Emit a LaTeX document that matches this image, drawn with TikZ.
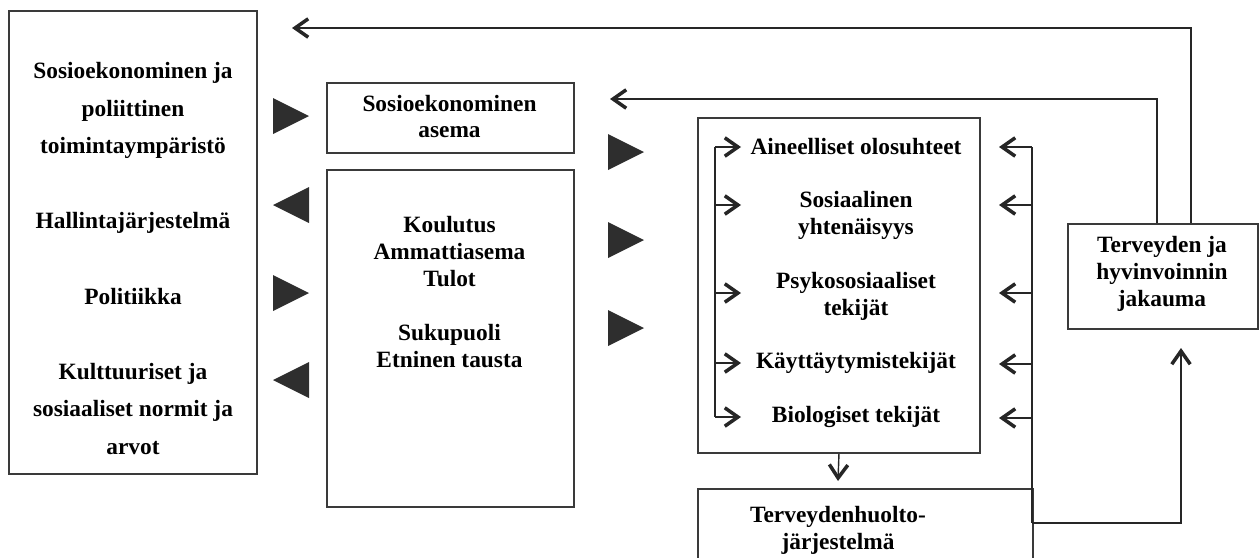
\documentclass[tikz,border=0pt]{standalone}
\usepackage{fontspec}
\setmainfont{Liberation Serif}
\usetikzlibrary{arrows.meta}
\definecolor{edge}{HTML}{3A3A3A}
\definecolor{tri}{HTML}{2E2E2E}
\tikzset{
  box/.style={draw=edge, line width=1.1pt, fill=white, rectangle, inner sep=0pt},
  lbl/.style={align=center, font=\bfseries\fontsize{13.3}{15.3}\selectfont, inner sep=0pt},
  conn/.style={draw=black!85, line width=0.8pt},
  arr/.style={conn, -{Straight Barb[length=7.5pt, width=10.5pt, line width=2pt]}},
  trir/.style={fill=tri},
}
\begin{document}
\begin{tikzpicture}[x=0.02cm, y=-0.02cm]
\useasboundingbox (0,0) rectangle (1259,558);
% boxes
\node[box, anchor=north west, minimum width=248*0.02cm, minimum height=463*0.02cm] (env) at (8,10) {};
\node[box, anchor=north west, minimum width=247*0.02cm, minimum height=70*0.02cm] (sep) at (326,82) {};
\node[box, anchor=north west, minimum width=247*0.02cm, minimum height=337*0.02cm] (mid) at (326,169) {};
\node[box, anchor=north west, minimum width=282*0.02cm, minimum height=335*0.02cm] (fac) at (697,117) {};
\node[box, anchor=north west, minimum width=335*0.02cm, minimum height=80*0.02cm] (hc) at (697,488) {};
\node[box, anchor=north west, minimum width=190*0.02cm, minimum height=105*0.02cm] (hw) at (1067,223) {};
% texts
\node[lbl, font=\bfseries\fontsize{13.3}{21.4}\selectfont] (tenv) at (133,258.5) {Sosioekonominen ja\\poliittinen\\toimintaympäristö\\[21.4pt]Hallintajärjestelmä\\[21.4pt]Politiikka\\[21.4pt]Kulttuuriset ja\\sosiaaliset normit ja\\arvot};
\node[lbl] (tsep) at (449.5,116.5) {Sosioekonominen\\asema};
\node[lbl] (tmid) at (449.5,292) {Koulutus\\Ammattiasema\\Tulot\\[15.8pt]Sukupuoli\\Etninen tausta};
\node[lbl] (f1) at (856,147) {Aineelliset olosuhteet};
\node[lbl] (f2) at (856,215) {Sosiaalinen\\yhtenäisyys};
\node[lbl] (f3) at (856,296.5) {Psykososiaaliset\\tekijät};
\node[lbl] (f4) at (856,363) {Käyttäytymistekijät};
\node[lbl] (f5) at (856,417) {Biologiset tekijät};
\node[lbl] (thc) at (838,530) {Terveydenhuolto-\\järjestelmä};
\node[lbl] (thw) at (1162,273.5) {Terveyden ja\\hyvinvoinnin\\jakauma};
% triangles
\fill[trir] (273,98) -- (309,116) -- (273,134) -- cycle;
\fill[trir] (309,187) -- (273,205) -- (309,223) -- cycle;
\fill[trir] (273,275) -- (309,293) -- (273,311) -- cycle;
\fill[trir] (309,362) -- (273,380) -- (309,398) -- cycle;
\fill[trir] (608,134) -- (644,152) -- (608,170) -- cycle;
\fill[trir] (608,222) -- (644,240) -- (608,258) -- cycle;
\fill[trir] (608,310) -- (644,328) -- (608,346) -- cycle;
% feedback connectors
\coordinate (t1) at (292,28);
\coordinate (t2) at (610,99);
\draw[arr] (hw.north west -| 1191,0) |- (t1);
\draw[arr] (hw.north west -| 1157,0) |- (t2);
% left bracket
\coordinate (lbT) at (715,147);
\coordinate (lbB) at (715,417);
\draw[conn] (lbT) -- (lbB);
\foreach \y/\n in {147/1,205/2,293/3,363/4,417/5}{
  \coordinate (la\n) at (715,\y);
  \coordinate (lt\n) at (741,\y);
  \draw[arr] (la\n) -- (lt\n);
}
% right bracket
\coordinate (rbT) at (1032,147);
\coordinate (rbB) at (1032,523);
\draw[conn] (rbT) -- (rbB);
\foreach \y/\n in {147/1,205/2,293/3,364/4,418/5}{
  \coordinate (ra\n) at (1032,\y);
  \coordinate (rt\n) at (999,\y);
  \draw[arr] (ra\n) -- (rt\n);
}
% down arrow
\coordinate (dtip) at (838,481);
\draw[arr] (fac.south) -- (dtip);
% bottom feedback
\coordinate (utip) at (1181,348);
\draw[arr] (rbB) -| (utip);
\end{tikzpicture}
\end{document}
